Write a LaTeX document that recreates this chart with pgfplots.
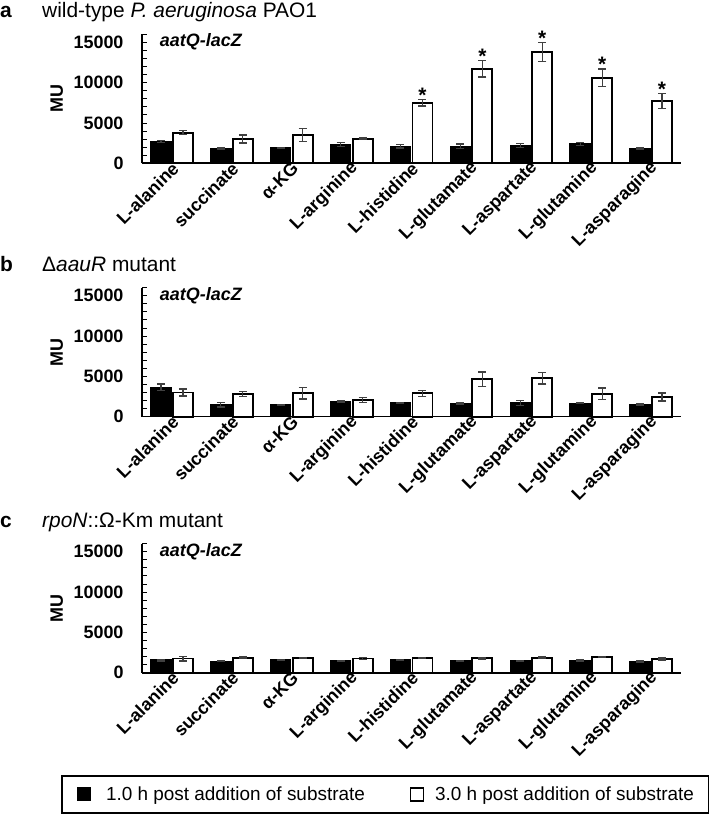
\documentclass[border=0pt]{standalone}
\usepackage{pgfplots}
\pgfplotsset{compat=1.18}
\usepackage{pgfplotstable}
\usepackage{fontspec}
\setmainfont{Liberation Sans}

\pgfplotstableread{
x b be w we s
0 2700 150 3800 250 0
1 1800 100 3000 500 0
2 1900 80 3500 800 0
3 2300 250 3050 100 0
4 2100 200 7500 400 1
5 2100 300 11700 1000 1
6 2200 250 13800 1200 1
7 2400 200 10600 1100 1
8 1800 100 7700 950 1
}\dataA
\pgfplotstableread{
x b be w we
0 3650 400 3000 450
1 1500 300 2800 300
2 1500 50 2900 700
3 1850 80 2050 300
4 1700 50 2900 370
5 1600 80 4650 900
6 1700 300 4750 700
7 1650 50 2850 700
8 1500 80 2450 500
}\dataB
\pgfplotstableread{
x b be w we
0 1550 100 1750 300
1 1400 50 1850 80
2 1550 80 1800 80
3 1450 60 1750 120
4 1600 60 1800 60
5 1450 60 1800 120
6 1450 60 1850 80
7 1500 60 1950 60
8 1400 60 1700 120
}\dataC

\newcommand{\tickfont}{\fontsize{18}{18}\selectfont\bfseries}
\definecolor{errgray}{HTML}{404040}
\tikzset{tagnode/.style={anchor=west, inner sep=0pt, font=\fontsize{18}{18}\selectfont\bfseries\itshape}}

\pgfplotsset{
  panel/.style={
    scale only axis, width=539bp, height=129.1bp,
    xmin=-0.5, xmax=8.5, ymin=0, ymax=16000,
    ybar=2bp, bar width=20bp,
    axis lines=left, axis line style={-, line width=1.6bp},
    xtick={0,...,8},
    xticklabels={L-alanine, succinate, α-KG, L-arginine, L-histidine, L-glutamate, L-aspartate, L-glutamine, L-asparagine},
    x tick style={draw=none},
    ytick={0,5000,10000,15000},
    minor ytick={1000,2000,3000,4000,6000,7000,8000,9000,11000,12000,13000,14000,16000},
    y tick style={line width=0.8bp, black},
    tick align=inside,
    major tick length=5bp, minor tick length=5bp,
    scaled y ticks=false,
    tick label style={font=\tickfont},
    /pgf/number format/assume math mode=true,
    /pgf/number format/1000 sep={},
    yticklabel style={xshift=-15bp},
    x tick label style={rotate=45, anchor=east, inner sep=1bp, yshift=-4bp, xshift=2bp},
    ylabel={MU}, ylabel style={font=\tickfont, at={(axis description cs:-0.158,0.5)}, anchor=center},
    clip=false,
  },
  errs/.style={
    error bars/y dir=both, error bars/y explicit,
    error bars/error bar style={line width=1.3bp, color=errgray},
    error bars/error mark options={rotate=90, mark size=4bp, line width=1.3bp, color=errgray},
  },
  blackbar/.style={fill=black, draw=black, line width=1.4bp, errs},
  whitebar/.style={fill=white, draw=black, line width=1.8bp, errs},
}

\begin{document}
\begin{tikzpicture}
\useasboundingbox (0,0) rectangle (709bp,818bp);

% Panel a
\begin{axis}[panel, at={(142bp,654.7bp)}, anchor=south west]
\addplot[blackbar] table[x=x, y=b, y error=be] {\dataA};
\addplot[whitebar,
  visualization depends on={\thisrow{s} \as \hasstar},
  visualization depends on={\thisrow{we}*129.1/16000 \as \errpx},
  nodes near coords={\ifdim\hasstar pt>0.5pt *\fi},
  nodes near coords style={anchor=south, inner sep=0pt, yshift=\errpx bp-4bp, font=\fontsize{21}{21}\selectfont\bfseries, text=black}]
  table[x=x, y=w, y error=we] {\dataA};
\node[tagnode] at (rel axis cs:0.033,0.94) {aatQ-lacZ};
\end{axis}

% Panel b
\begin{axis}[panel, at={(142bp,401.3bp)}, anchor=south west]
\addplot[blackbar] table[x=x, y=b, y error=be] {\dataB};
\addplot[whitebar] table[x=x, y=w, y error=we] {\dataB};
\node[tagnode] at (rel axis cs:0.033,0.94) {aatQ-lacZ};
\end{axis}

% Panel c
\begin{axis}[panel, at={(142bp,145.3bp)}, anchor=south west,
  legend style={at={(axis description cs:0.4518,-0.793)}, anchor=north,
    legend columns=2, draw=black, line width=1.5bp,
    font=\fontsize{19}{19}\selectfont, inner xsep=15bp, inner ysep=9bp,
    nodes={inner xsep=0pt, inner ysep=2bp},
    /tikz/column 1/.style={column sep=15bp},
    /tikz/column 2/.style={column sep=45bp},
    /tikz/column 3/.style={column sep=11bp}},
  legend cell align=left]
\addplot[blackbar, legend image code/.code={\draw[fill=black, draw=black, line width=1bp] (0bp,-6.5bp) rectangle (13bp,6.5bp);}] table[x=x, y=b, y error=be] {\dataC};
\addlegendentry{1.0 h post addition of substrate}
\addplot[whitebar, legend image code/.code={\draw[fill=white, draw=black, line width=1.2bp] (0bp,-6.5bp) rectangle (13bp,6.5bp);}] table[x=x, y=w, y error=we] {\dataC};
\addlegendentry{3.0 h post addition of substrate}
\node[tagnode] at (rel axis cs:0.033,0.94) {aatQ-lacZ};
\end{axis}

% Panel titles
\node[anchor=base west, font=\fontsize{21}{21}\selectfont\bfseries, inner sep=0pt] at (0bp,800bp) {a};
\node[anchor=base west, font=\fontsize{21}{21}\selectfont, inner sep=0pt] at (42bp,800bp) {wild-type \textit{P. aeruginosa} PAO1};
\node[anchor=base west, font=\fontsize{21}{21}\selectfont\bfseries, inner sep=0pt] at (0bp,546bp) {b};
\node[anchor=base west, font=\fontsize{21}{21}\selectfont, inner sep=0pt] at (42bp,546bp) {Δ\textit{aauR} mutant};
\node[anchor=base west, font=\fontsize{21}{21}\selectfont\bfseries, inner sep=0pt] at (0bp,290bp) {c};
\node[anchor=base west, font=\fontsize{21}{21}\selectfont, inner sep=0pt] at (42bp,290bp) {\textit{rpoN}::Ω-Km mutant};
\end{tikzpicture}
\end{document}
